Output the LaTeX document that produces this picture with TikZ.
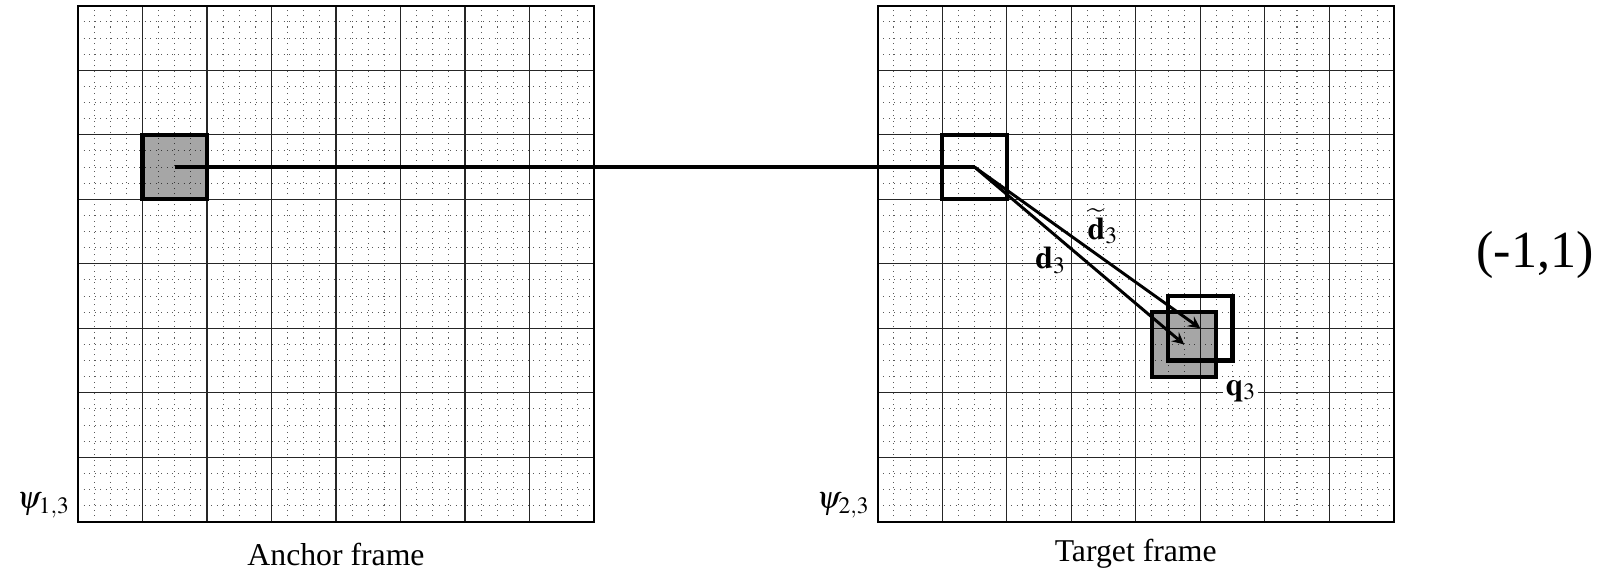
\documentclass[tikz,border=0pt]{standalone}
\usepackage{amsmath}
\usepackage{amssymb}
\usepackage{mathptmx}
\usepackage{fontspec}
\setmainfont{Liberation Serif}

\begin{document}
\begin{tikzpicture}[
  font=\fontsize{14}{17}\selectfont,
  fine/.style={black!65,dotted,line width=0.45pt},
  cell/.style={black!85,line width=0.5pt},
  border/.style={line width=1pt},
  patch/.style={draw,line width=1.8pt,minimum size=1cm,inner sep=0pt,outer sep=0pt},
  shaded/.style={patch,fill=black,fill opacity=0.35}]
  \useasboundingbox (-1.21,-0.76) rectangle (23.66,8.09);
  % anchor frame
  \draw[fine,step=0.25] (0,0) grid (8,8);
  \draw[cell,step=1] (0,0) grid (8,8);
  \draw[border] (0,0) rectangle (8,8);
  % target frame
  \draw[fine,step=0.25,xshift=12.4cm] (0,0) grid (8,8);
  \draw[cell,step=1,xshift=12.4cm] (0,0) grid (8,8);
  \draw[border] (12.4,0) rectangle (20.4,8);
  \node[anchor=east] (psi1) at (0,0.25) {$\psi_{1,3}$};
  \node[anchor=east] (psi2) at (12.4,0.25) {$\psi_{2,3}$};
  \node (anchorlbl) at (4,-0.5) {Anchor frame};
  \node (targetlbl) at (16.4,-0.5) {Target frame};
  % blocks
  \node[shaded] (blk1) at (1.5,5.5) {};
  \node[patch] (blk2) at (13.9,5.5) {};
  \node[shaded] (match) at (17.15,2.75) {};
  \node[patch] (est) at (17.4,3.0) {};
  \draw[line width=1.5pt] (blk1.center) -- (blk2.center);
  \draw[->,>=stealth,line width=1.3pt] (blk2.center) -- (match.center);
  \draw[->,>=stealth,line width=1.3pt] (blk2.center) -- (est.center);
  \node[inner sep=1pt] (dlbl) at (15.08,4.05) {$\mathbf{d}_3$};
  \node[inner sep=1pt] (dtlbl) at (15.89,4.58) {$\widetilde{\mathbf{d}}_3$};
  \node[fill=white,inner sep=1pt] (qlbl) at (18.03,2.03) {$\mathbf{q}_3$};
  \node[font=\fontsize{23}{27}\selectfont] (pos) at (22.59,4.13) {(-1,1)};
\end{tikzpicture}
\end{document}
